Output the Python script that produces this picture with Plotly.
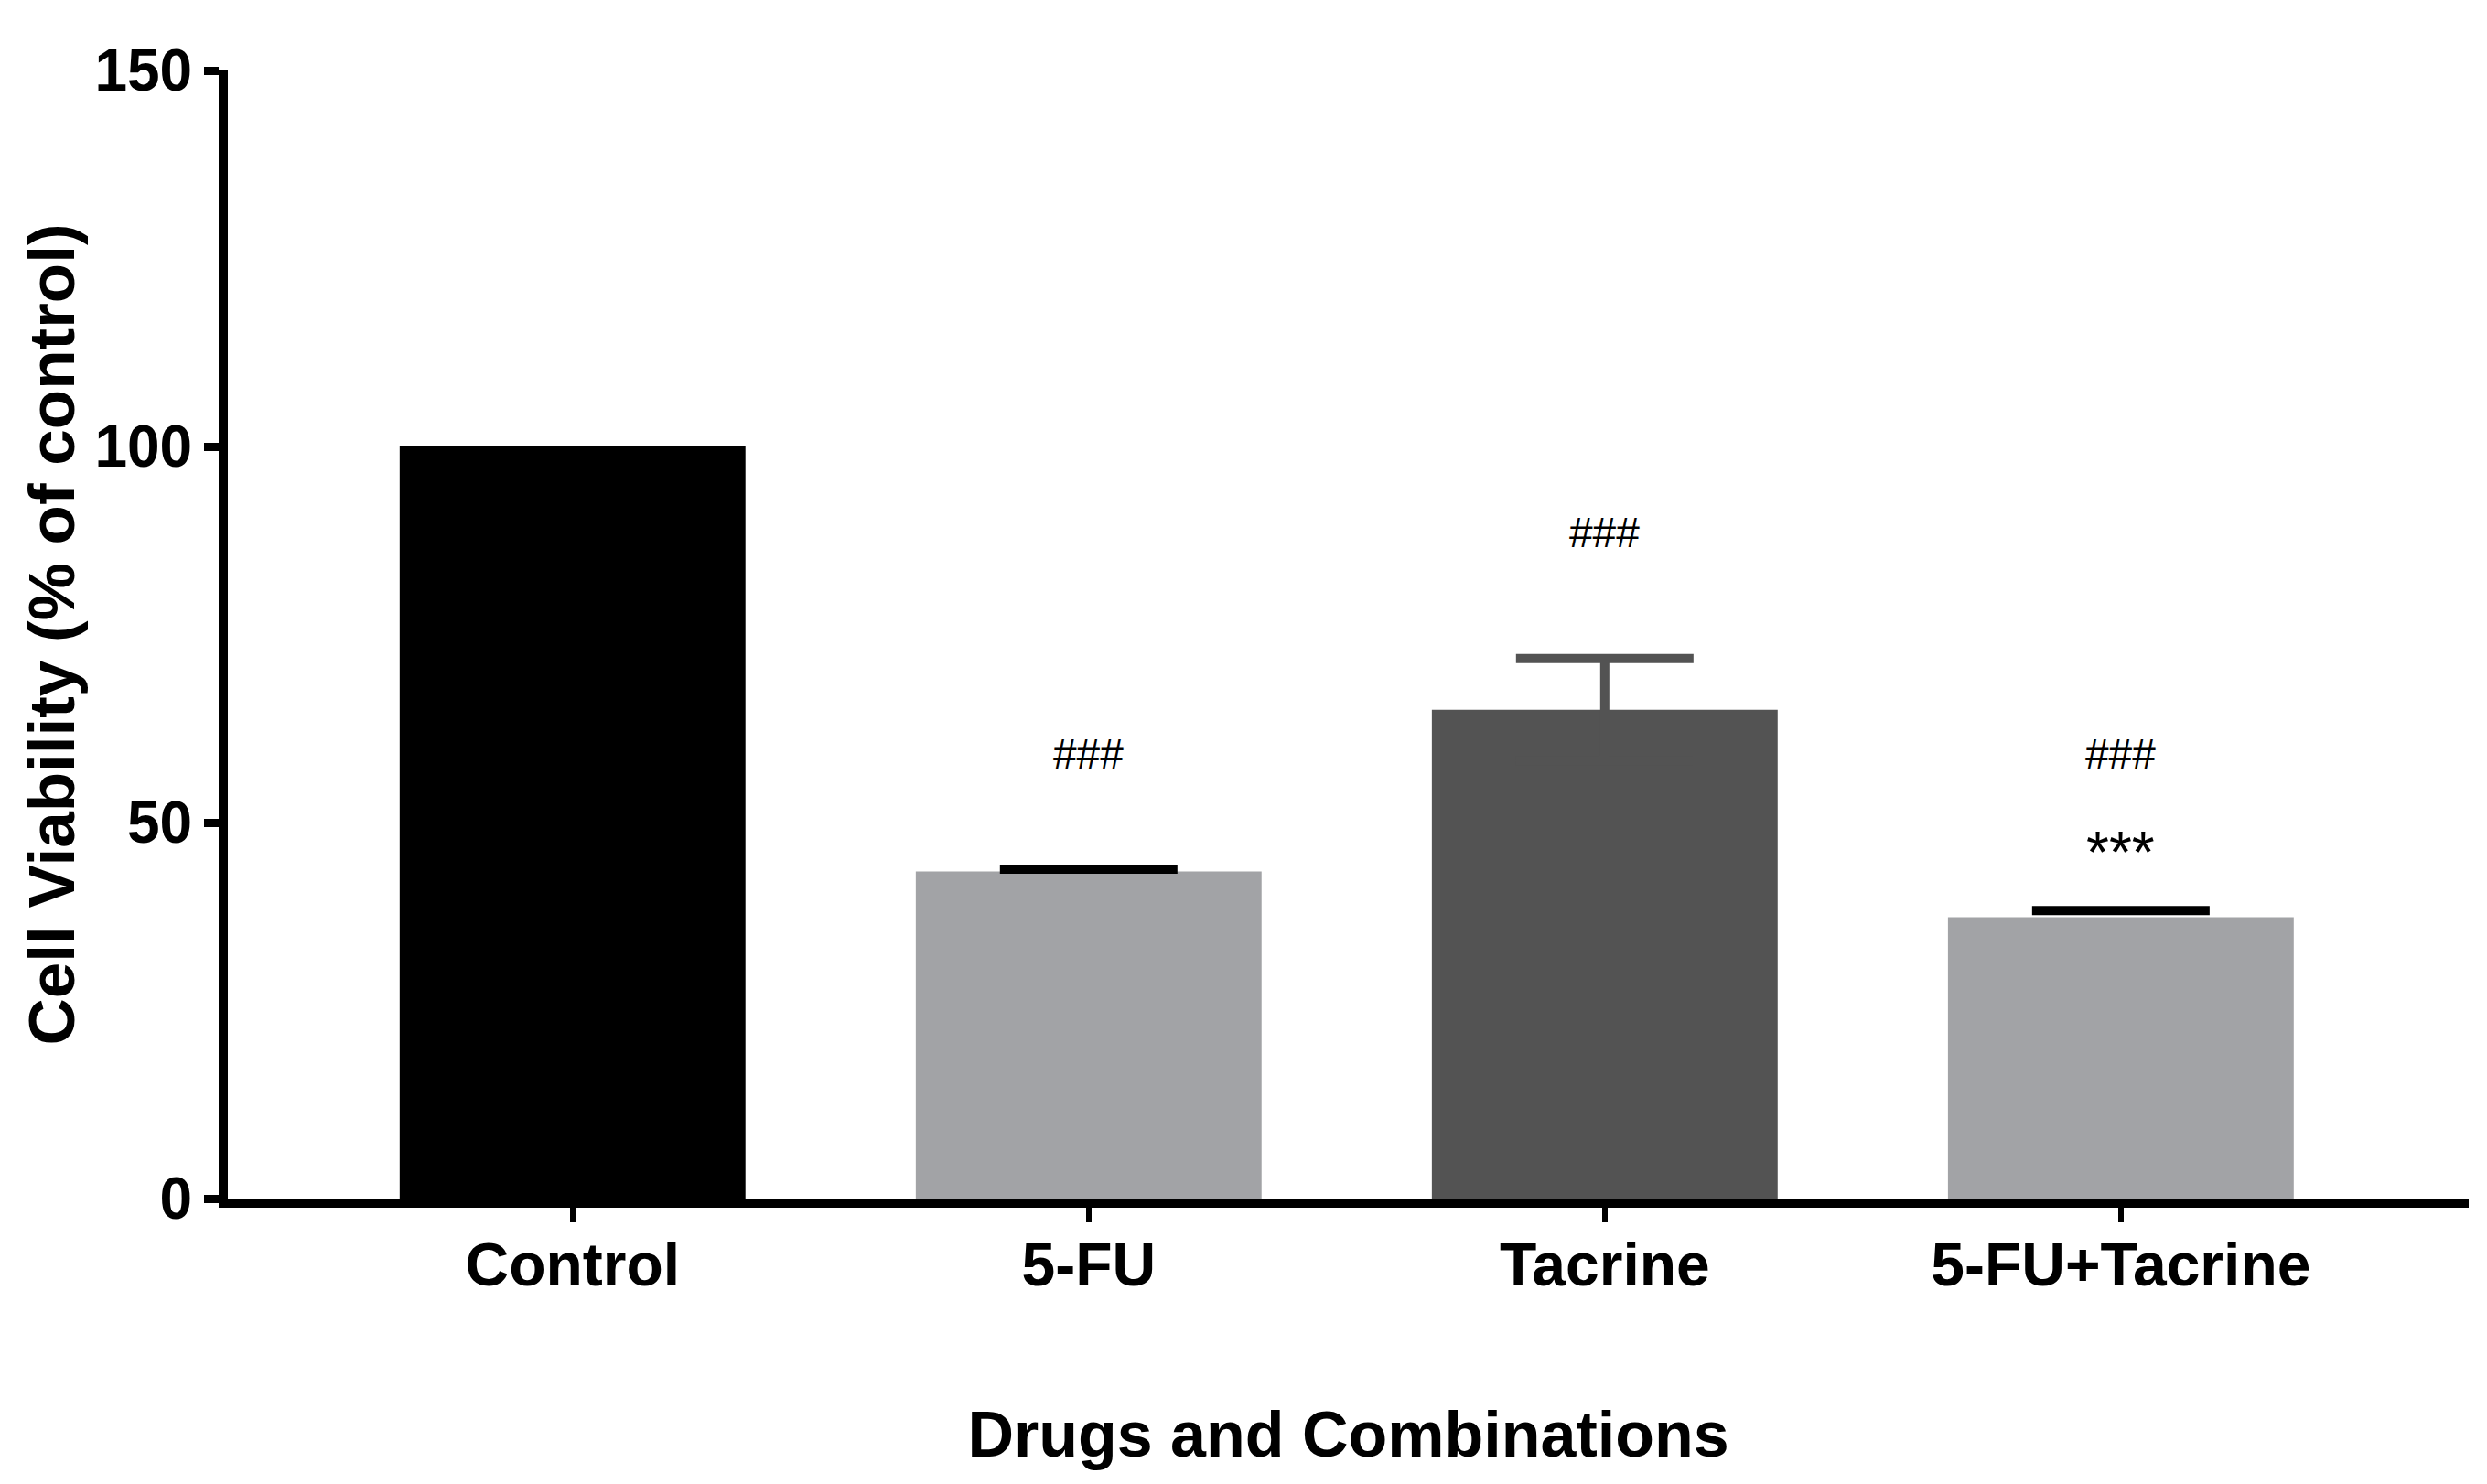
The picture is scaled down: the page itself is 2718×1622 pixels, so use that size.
import plotly.graph_objects as go

categories = ["Control", "5-FU", "Tacrine", "5-FU+Tacrine"]
viability = [100.0, 43.5, 65.0, 37.4]
error_up = [0.0, 0.3, 6.8, 0.9]
bar_colors = ["#000000", "#A2A3A6", "#535353", "#A2A3A6"]
err_colors = ["#000000", "#000000", "#535353", "#000000"]

hash_labels = ["", "###", "###", "###"]
hash_y = [None, 59.1, 88.6, 59.1]
star_labels = ["", "", "", "***"]
star_y = [None, None, None, 46.0]

y_ticks = [0, 50, 100, 150]

FONT = "Liberation Sans"

fig = go.Figure()
for i, cat in enumerate(categories):
    # Only the upper whisker is shown (as in the original): for bars whose colour
    # matches the whisker, the lower half is hidden inside the bar; otherwise the
    # lower cap is folded onto the upper cap.
    if err_colors[i] == bar_colors[i]:
        minus = error_up[i]
    else:
        minus = -error_up[i]
    fig.add_trace(go.Bar(
        x=[cat], y=[viability[i]],
        marker=dict(color=bar_colors[i], line=dict(width=0)),
        width=0.67,
        error_y=dict(type="data", array=[error_up[i]], arrayminus=[minus], symmetric=False,
                     visible=error_up[i] > 0, color=err_colors[i], thickness=10, width=97),
        showlegend=False,
    ))

for i, cat in enumerate(categories):
    if hash_labels[i]:
        fig.add_annotation(x=cat, y=hash_y[i], text=hash_labels[i], showarrow=False,
                           xanchor="center", yanchor="middle",
                           font=dict(family=FONT, size=46, color="#000000"))
    if star_labels[i]:
        fig.add_annotation(x=cat, y=star_y[i], text=star_labels[i], showarrow=False,
                           xanchor="center", yanchor="middle",
                           font=dict(family=FONT, size=64, color="#000000"))

fig.update_layout(
    width=2718, height=1622,
    margin=dict(l=241, r=28, t=69, b=320),
    paper_bgcolor="white", plot_bgcolor="white",
    barmode="overlay",
    font=dict(family=FONT, color="#000000"),
    xaxis=dict(
        range=[-0.668, 3.674],
        showline=True, linewidth=10, linecolor="#000000",
        ticks="outside", ticklen=16, tickwidth=6, tickcolor="#000000",
        showgrid=False, zeroline=False,
        ticklabelstandoff=-10,
        tickfont=dict(family=FONT, size=66, color="#000000", weight="bold"),
        title=dict(text="Drugs and Combinations", standoff=129,
                   font=dict(family=FONT, size=70, color="#000000", weight="bold")),
    ),
    yaxis=dict(
        range=[0, 150], tickvals=y_ticks,
        showline=True, linewidth=10, linecolor="#000000",
        ticks="outside", ticklen=16, tickwidth=9, tickcolor="#000000",
        showgrid=False, zeroline=False,
        tickfont=dict(family=FONT, size=64, color="#000000", weight="bold"),
        title=dict(text="Cell Viability (% of control)", standoff=3,
                   font=dict(family=FONT, size=71, color="#000000", weight="bold")),
    ),
)

fig.write_html("out.html")
